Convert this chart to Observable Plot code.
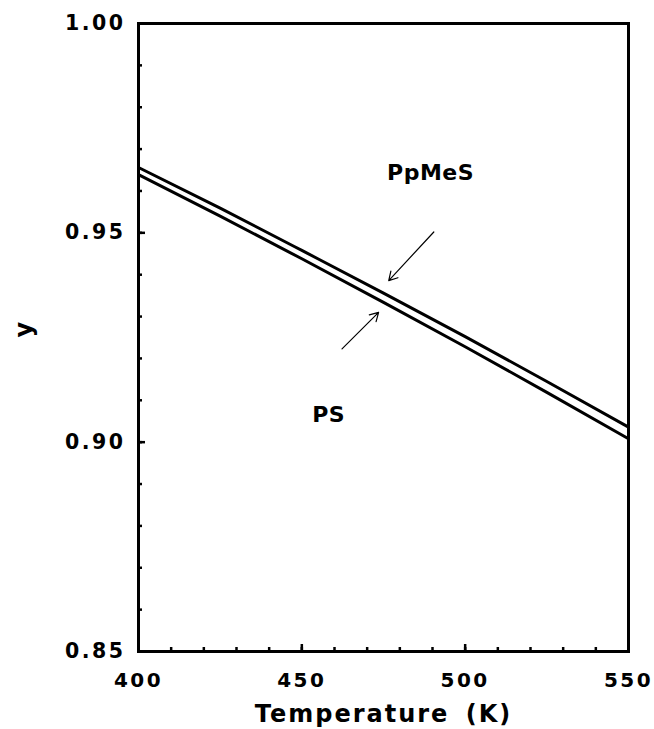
<!DOCTYPE html>
<html>
<head>
<meta charset="utf-8">
<script src="https://cdn.jsdelivr.net/npm/d3@7"></script>
<script src="https://cdn.jsdelivr.net/npm/@observablehq/plot@0.6"></script>
<style>
  html, body { margin: 0; padding: 0; background: #fff; }
  #chart svg { display: block; }
  #chart g[aria-label="x-axis tick label"] text,
  #chart g[aria-label="y-axis tick label"] text { letter-spacing: 2.5px; }
  #chart text[aria-label="axis title"] { letter-spacing: 2px; word-spacing: 6px; }
  #chart text[aria-label="curve label"] { letter-spacing: 0.5px; }
</style>
</head>
<body>
<div id="chart"></div>
<script>
// Temperature (K) at which each curve is sampled
const temperature = [400, 425, 450, 475, 500, 525, 550];
// y for poly(p-methylstyrene) and polystyrene
const yPpMeS = [0.9656, 0.9559, 0.9458, 0.9356, 0.9252, 0.9145, 0.9036];
const yPS    = [0.9639, 0.9540, 0.9438, 0.9334, 0.9228, 0.9119, 0.9008];

// Tick values
const xMajor = [400, 450, 500, 550];
const xMinor = d3.range(400, 551, 10);
const yMajor = [0.85, 0.90, 0.95, 1.00];
const yMinor = d3.range(85, 101, 1).map(v => v / 100);

// Curve labels and their pointer arrows
const labels = [
  {text: "PpMeS", x: 489.4, y: 0.9644},
  {text: "PS", x: 458.2, y: 0.9064}
];
const arrows = [
  {x1: 490.4, y1: 0.9502, x2: 476.6, y2: 0.9386},
  {x1: 462.3, y1: 0.9223, x2: 473.5, y2: 0.9310}
];

const rows = series => temperature.map((t, i) => ({t, y: series[i]}));
const font = "'DejaVu Sans', sans-serif";

const chart = Plot.plot({
  width: 654,
  height: 729,
  marginLeft: 138,
  marginRight: 26,
  marginTop: 23,
  marginBottom: 78,
  style: {fontFamily: font, background: "#fff", color: "#000"},
  x: {domain: [400, 550]},
  y: {domain: [0.85, 1.00]},
  marks: [
    // inward minor and major ticks
    Plot.axisX(xMinor, {tickSize: -4, text: null, label: null, strokeWidth: 2.5}),
    Plot.axisX(xMajor, {tickSize: -7, text: null, label: null, strokeWidth: 2.5}),
    Plot.axisY(yMinor, {tickSize: -4, text: null, label: null, strokeWidth: 2.5}),
    Plot.axisY(yMajor, {tickSize: -7, text: null, label: null, strokeWidth: 2.5}),
    // tick labels
    Plot.axisX(xMajor, {tickSize: 0, tickPadding: 21, label: null, fontSize: 20, fontWeight: "bold",
      tickFormat: d3.format("d")}),
    Plot.axisY(yMajor, {tickSize: 0, tickPadding: 13, label: null, fontSize: 20.5, fontWeight: "bold",
      tickFormat: d3.format(".2f")}),
    // axis titles
    Plot.text(["Temperature (K)"], {frameAnchor: "bottom", dy: 70, fontSize: 24, fontWeight: "bold",
      ariaLabel: () => "axis title"}),
    Plot.text(["y"], {frameAnchor: "left", dx: -114, rotate: -90, fontSize: 24, fontWeight: "bold"}),
    // curves
    Plot.line(rows(yPpMeS), {x: "t", y: "y", stroke: "#000", strokeWidth: 3, curve: "natural"}),
    Plot.line(rows(yPS), {x: "t", y: "y", stroke: "#000", strokeWidth: 3, curve: "natural"}),
    // annotations
    Plot.text(labels, {x: "x", y: "y", text: "text", fontSize: 22, fontWeight: "bold",
      ariaLabel: () => "curve label"}),
    Plot.arrow(arrows, {x1: "x1", y1: "y1", x2: "x2", y2: "y2", stroke: "#000", strokeWidth: 1.2, headLength: 12}),
    Plot.frame({stroke: "#000", strokeWidth: 3})
  ]
});

document.getElementById("chart").appendChild(chart);
</script>
</body>
</html>
